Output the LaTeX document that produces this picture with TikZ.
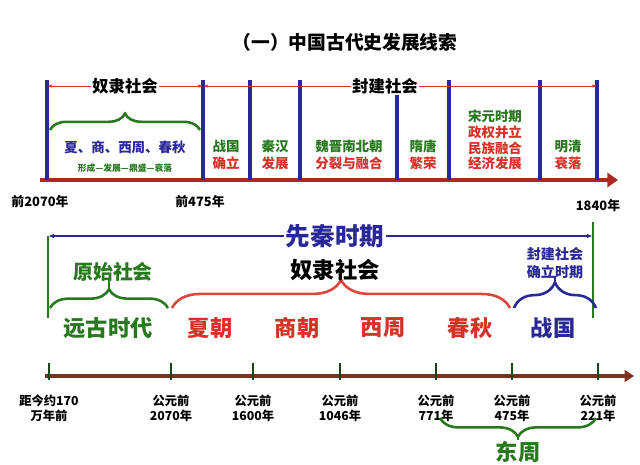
\documentclass[tikz,border=0pt]{standalone}
\usepackage{fontspec}
\setmainfont{Noto Sans CJK SC}
\usetikzlibrary{decorations.pathreplacing,arrows.meta}
\definecolor{dblue}{RGB}{40,40,150}
\definecolor{dgreen}{RGB}{40,120,30}
\definecolor{dred}{RGB}{215,50,40}
\definecolor{brown}{RGB}{120,50,30}
\begin{document}
\begin{tikzpicture}[x=0.03cm,y=-0.03cm,
  bar/.style={dblue,line width=3pt},
  lab/.style={font=\bfseries\fontsize{10}{12}\selectfont,align=center},
  seg/.style={font=\bfseries\fontsize{11.5}{14}\selectfont,align=center,inner sep=1pt},
  big/.style={font=\bfseries\fontsize{17}{19}\selectfont},
  br/.style={decorate,decoration={brace,amplitude=10pt},line width=2.2pt},
  tick/.style={line width=2.5pt,dgreen!60!black}]
\useasboundingbox (0,0) rectangle (640,464);
\fill[white] (0,0) rectangle (640,464);
\node[font=\bfseries\fontsize{16}{18}\selectfont] (title) at (345,42) {（一）中国古代史发展线索};
% top timeline
\coordinate (a0) at (40,180); \coordinate (a1) at (618,180);
\draw[dred!80!black,line width=4pt,-{Triangle[length=9pt,width=12pt]}] (a0) -- (a1);
\foreach \x/\n in {47/b1,203/b2,250/b3,300/b4,397/b5,449/b6,540/b7,597/b8}{
  \coordinate (\n t) at (\x,80); \coordinate (\n b) at (\x,180);
  \draw[bar] (\n t) -- (\n b);}
\node[font=\bfseries\fontsize{14}{16}\selectfont,fill=white,inner sep=1pt] (ns) at (125,86) {奴隶社会};
\draw[dred,line width=0.8pt,-{Latex[length=4pt]}] (ns.west) -- (b1t|-ns);
\draw[dred,line width=0.8pt,-{Latex[length=4pt]}] (ns.east) -- (b2t|-ns);
\node[font=\bfseries\fontsize{14}{16}\selectfont,fill=white,inner sep=1pt] (fj) at (385,86) {封建社会};
\draw[dred,line width=0.8pt,-{Latex[length=4pt]}] (fj.west) -- (b2t|-fj);
\draw[dred,line width=0.8pt,-{Latex[length=4pt]}] (fj.east) -- (b8t|-fj);
\coordinate (g1) at (50,130); \coordinate (g2) at (200,130);
\draw[br,dgreen,decoration={brace,amplitude=14pt,mirror}] (g2) -- (g1);
\node[seg,dblue] (xs) at (125,147) {夏、商、西周、春秋};
\node[lab,dgreen,font=\bfseries\fontsize{7.5}{9}\selectfont] (xc) at (125,168) {形成—发展—鼎盛—衰落};
\node[seg] (s1) at (226,155) {\textcolor{dgreen}{战国}\\\textcolor{dred}{确立}};
\node[seg] (s2) at (275,155) {\textcolor{dgreen}{秦汉}\\\textcolor{dred}{发展}};
\node[seg] (s3) at (349,155) {\textcolor{dgreen}{魏晋南北朝}\\\textcolor{dred}{分裂与融合}};
\node[seg] (s4) at (423,155) {\textcolor{dgreen}{隋唐}\\\textcolor{dred}{繁荣}};
\node[seg,font=\bfseries\fontsize{11.5}{13.5}\selectfont] (s5) at (495,140) {\textcolor{dgreen}{宋元时期}\\\textcolor{dred}{政权并立}\\\textcolor{dred}{民族融合}\\\textcolor{dred}{经济发展}};
\node[seg] (s6) at (568,155) {\textcolor{dgreen}{明清}\\\textcolor{dred}{衰落}};
\node[lab,font=\bfseries\fontsize{11}{12}\selectfont] (d1) at (40,202) {前2070年};
\node[lab,font=\bfseries\fontsize{11}{12}\selectfont] (d2) at (200,202) {前475年};
\node[lab,font=\bfseries\fontsize{11}{12}\selectfont] (d3) at (598,206) {1840年};
% bottom
\node[dblue,fill=white,inner sep=1pt,font=\bfseries\fontsize{21}{23}\selectfont] (xq) at (335,236) {先秦时期};
\coordinate (L) at (48,236); \coordinate (R) at (593,236);
\draw[dblue,line width=1.2pt,-{Latex[length=5pt]}] (xq.west) -- (L);
\draw[dblue,line width=1.2pt,-{Latex[length=5pt]}] (xq.east) -- (R);
\coordinate (Lb) at (48,318); \coordinate (Rt) at (593,222); \coordinate (Rb) at (593,318);
\draw[dgreen,line width=2pt] (L) -- (Lb);
\draw[dgreen,line width=2pt] (Rt) -- (Rb);
\coordinate (c0) at (45,376); \coordinate (c1) at (634,376);
\draw[brown,line width=3pt,-{Triangle[length=8pt,width=10pt]}] (c0) -- (c1);
\foreach \x/\n in {49/t1,171/t2,253/t3,340/t4,436/t5,512/t6,598/t7}{
  \coordinate (\n a) at (\x,363); \coordinate (\n b) at (\x,380);
  \draw[tick] (\n a) -- (\n b);}
\draw[br,dgreen,decoration={brace,amplitude=16pt}] (50,308) -- (168,308);
\draw[dgreen,line width=2.2pt] (109,292) -- (109,278);
\draw[br,dred!90!white,decoration={brace,amplitude=24pt}] (172,308) -- (510,308);
\draw[dred,line width=2.2pt] (341,282) -- (341,268);
\draw[br,dblue,decoration={brace,amplitude=22pt}] (514,308) -- (596,308);
\draw[dblue,line width=2.2pt] (555,285) -- (555,276);
\node[big,dgreen] (ys) at (113,272) {原始社会};
\node[big,font=\bfseries\fontsize{19}{21}\selectfont] (nl) at (335,270) {奴隶社会};
\node[seg,dblue,font=\bfseries\fontsize{12}{15}\selectfont] (fq) at (555,263) {封建社会\\确立时期};
\node[big,dgreen,font=\bfseries\fontsize{19}{21}\selectfont] (yg) at (108,328) {远古时代};
\node[big,dred,font=\bfseries\fontsize{19}{21}\selectfont] (xz) at (210,328) {夏朝};
\node[big,dred,font=\bfseries\fontsize{19}{21}\selectfont] (sz) at (297,328) {商朝};
\node[big,dred,font=\bfseries\fontsize{19}{21}\selectfont] (xzh) at (383,328) {西周};
\node[big,dred,font=\bfseries\fontsize{19}{21}\selectfont] (cq) at (470,328) {春秋};
\node[big,dblue,font=\bfseries\fontsize{19}{21}\selectfont] (zg) at (553,328) {战国};
\foreach \x/\t/\n in {49/距今约170\\万年前/e1,171/公元前\\2070年/e2,253/公元前\\1600年/e3,340/公元前\\1046年/e4,436/公元前\\771年/e5,512/公元前\\475年/e6,598/公元前\\221年/e7}
  \node[lab,font=\bfseries\fontsize{10.5}{13}\selectfont] (\n) at (\x,408) {\t};
\draw[br,dgreen,decoration={brace,amplitude=16pt,mirror}] (440,418) -- (596,418);
\draw[dgreen,line width=2.2pt] (518,436) -- (518,440);
\node[big,dgreen,font=\bfseries\fontsize{19}{21}\selectfont] (dz) at (518,452) {东周};
\end{tikzpicture}
\end{document}
